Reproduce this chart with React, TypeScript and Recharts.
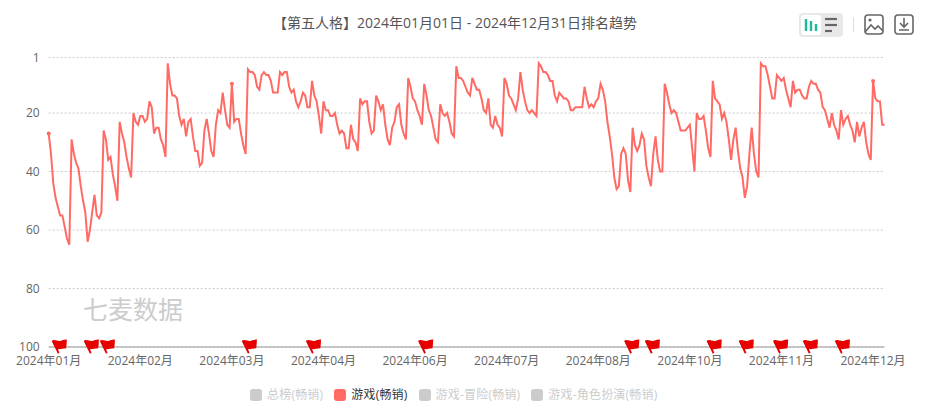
import { LineChart, Line, XAxis, YAxis, CartesianGrid, ReferenceLine } from "recharts"

const ranks = [
  27, 34, 44, 49, 52, 55, 55, 59, 63, 65, 29, 34, 37, 39, 45, 50, 54, 64, 60, 54,
  48, 55, 56, 54, 26, 29, 36, 35, 41, 45, 50, 23, 27, 30, 35, 39, 42, 20, 23, 24,
  21, 21, 23, 22, 16, 18, 27, 25, 25, 29, 31, 35, 3, 10, 14, 14, 15, 21, 24, 22,
  28, 23, 22, 28, 33, 33, 38, 37, 26, 22, 27, 33, 35, 24, 19, 20, 13, 19, 24, 25,
  10, 23, 22, 22, 27, 31, 34, 5, 6, 6, 7, 11, 12, 7, 6, 7, 7, 9, 13, 13,
  13, 6, 7, 6, 6, 11, 13, 12, 16, 18, 16, 13, 14, 18, 18, 9, 14, 16, 21, 27,
  16, 19, 19, 21, 21, 20, 24, 27, 26, 27, 32, 32, 24, 29, 30, 33, 15, 17, 16, 16,
  23, 27, 26, 14, 16, 19, 17, 24, 29, 31, 25, 23, 18, 17, 24, 27, 29, 8, 11, 15,
  16, 19, 21, 24, 10, 14, 19, 21, 25, 29, 30, 17, 20, 21, 20, 23, 27, 28, 4, 8,
  8, 9, 11, 13, 14, 8, 10, 12, 12, 15, 19, 20, 15, 24, 25, 21, 24, 25, 28, 8,
  10, 14, 15, 17, 19, 15, 6, 12, 16, 19, 20, 19, 20, 21, 3, 4, 6, 6, 7, 9,
  9, 14, 16, 13, 14, 15, 15, 16, 19, 19, 18, 18, 18, 18, 11, 15, 18, 17, 18, 16,
  15, 10, 12, 16, 23, 28, 34, 42, 46, 45, 34, 32, 34, 43, 47, 25, 31, 33, 31, 27,
  29, 38, 42, 45, 34, 28, 36, 40, 40, 10, 13, 17, 20, 19, 20, 23, 26, 26, 26, 25,
  24, 32, 40, 20, 22, 22, 21, 26, 32, 35, 9, 15, 16, 17, 22, 20, 23, 29, 36, 29,
  25, 33, 39, 42, 49, 45, 34, 25, 34, 40, 42, 3, 4, 4, 7, 11, 15, 15, 7, 8,
  9, 8, 12, 15, 18, 9, 13, 12, 12, 14, 15, 15, 11, 9, 10, 10, 12, 13, 18, 19,
  22, 25, 20, 24, 26, 29, 19, 24, 22, 21, 24, 26, 30, 23, 28, 25, 23, 30, 34, 36,
  9, 15, 16, 16, 24, 24,
]

const flagDays = [4, 18, 25, 87, 115, 164, 254, 263, 290, 304, 319, 332, 346]
const monthTicks = ["2024-01-01", "2024-02-10", "2024-03-21", "2024-04-30", "2024-06-09", "2024-07-19", "2024-08-28", "2024-10-07", "2024-11-16", "2024-12-26"]
const rankTicks = [1, 20, 40, 60, 80, 100]
const dotDays = [0, 80, 360]
const legendItems = ["总榜(畅销)", "游戏(畅销)", "游戏-冒险(畅销)", "游戏-角色扮演(畅销)"]
const activeLegend = "游戏(畅销)"

const fontFamily = '"Open Sans", "Noto Sans CJK SC", sans-serif'
const lineColor = "#ff6b64"

const startDate = Date.UTC(2024, 0, 1)
const chartData = ranks.map((rank, i) => ({
  date: new Date(startDate + i * 86400000).toISOString().slice(0, 10),
  rank,
  flag: flagDays.includes(i) ? 100 : null,
}))

function FlagDot({ cx, cy, index }: { cx?: number; cy?: number; index?: number }) {
  if (cx == null || cy == null || chartData[index ?? 0].flag == null) return <g key={index} />
  return (
    <g key={index} transform={`translate(${cx} ${cy + 6.8})`}>
      <path d="M0 0 L-6 -12.5 L-3.8 -13.6 L1.6 -1 Z" fill="#e60000" />
      <path d="M-6 -13 C-3 -15 0 -12 3 -13 C5 -13.8 7 -14.2 9 -14.2 C8.9 -11 8.7 -8.2 8.3 -5.6 C5.5 -5.4 3.5 -4.6 1 -4.6 C0 -4.6 -1 -5 -2.2 -5.6 Z" fill="#e60000" />
    </g>
  )
}

function RankDot({ cx, cy, index }: { cx?: number; cy?: number; index?: number }) {
  if (cx == null || cy == null || !dotDays.includes(index ?? -1)) return <g key={index} />
  return <circle key={index} cx={cx} cy={cy} r={2} fill={lineColor} />
}

function Toolbar() {
  return (
    <svg width={125} height={30} style={{ position: "absolute", left: 795, top: 10 }}>
      <rect x={4} y={3} width={44} height={24} rx={4} fill="#e8e8e8" />
      <rect x={6} y={5} width={20} height={20} rx={3} fill="#fff" />
      <g stroke="#1abc9c" strokeWidth={2.4}>
        <line x1={11} y1={9} x2={11} y2={21} />
        <line x1={16} y1={11} x2={16} y2={21} />
        <line x1={21} y1={14} x2={21} y2={21} />
      </g>
      <g stroke="#666" strokeWidth={2.2}>
        <line x1={30} y1={9} x2={42} y2={9} />
        <line x1={30} y1={15} x2={42} y2={15} />
        <line x1={30} y1={21} x2={37} y2={21} />
      </g>
      <line x1={58.5} y1={7} x2={58.5} y2={22} stroke="#ddd" />
      <g fill="none" stroke="#666" strokeWidth={1.6}>
        <rect x={70} y={5} width={18} height={19} rx={3} />
        <path d="M70 22 L76 15 L80 19 L83 16 L88 21" />
        <rect x={100} y={5} width={18} height={19} rx={3} />
        <path d="M109 8 V17 M105 13 L109 17 L113 13 M104 20 H114" />
      </g>
      <circle cx={75} cy={10} r={1.6} fill="#666" />
    </svg>
  )
}

function ChartLegend() {
  return (
    <div style={{ position: "absolute", left: 250, top: 387, display: "flex", gap: 11, fontSize: 12, lineHeight: "16px", fontFamily }}>
      {legendItems.map((item) => {
        const active = item === activeLegend
        return (
          <div key={item} style={{ display: "flex", alignItems: "center", gap: 5, color: active ? "#333" : "#ccc", whiteSpace: "nowrap" }}>
            <span style={{ width: 12, height: 12, borderRadius: 3, background: active ? lineColor : "#ccc" }} />
            <span style={{ letterSpacing: 0.2 }}>{item}</span>
          </div>
        )
      })}
    </div>
  )
}

export default function App() {
  return (
    <div style={{ position: "absolute", left: 0, top: 0, width: 925, height: 413, background: "#fff", fontFamily }}>
      <div style={{ position: "absolute", left: 0, width: 910, top: 14, textAlign: "center", fontSize: 14, lineHeight: "18px", color: "#555" }}>
        【第五人格】2024年01月01日 - 2024年12月31日排名趋势
      </div>
      <div style={{ position: "absolute", left: 83, top: 293, fontSize: 25, lineHeight: "32px", color: "#ccc" }}>七麦数据</div>
      <LineChart width={925} height={413} data={chartData} margin={{ top: 57.5, right: 40.5, bottom: 36, left: 0.7 }} style={{ position: "absolute", left: 0, top: 0 }}>
        <CartesianGrid vertical={false} stroke="#ccc" strokeDasharray="2 2" />
        <XAxis
          dataKey="date"
          ticks={monthTicks}
          interval={0}
          tickFormatter={(d: string) => `${d.slice(0, 4)}年${d.slice(5, 7)}月`}
          axisLine={false}
          tickLine={false}
          tick={{ fill: "#666", fontSize: 12 }}
          tickMargin={3}
          height={30}
        />
        <YAxis
          type="number"
          reversed
          domain={[1, 100]}
          ticks={rankTicks}
          interval={0}
          axisLine={false}
          tickLine={false}
          tick={{ fill: "#666", fontSize: 12 }}
          width={48}
          tickMargin={3}
        />
        <ReferenceLine y={100} stroke="#999" />
        <Line dataKey="rank" stroke={lineColor} strokeWidth={2} dot={RankDot} activeDot={false} isAnimationActive={false} />
        <Line dataKey="flag" stroke="none" dot={FlagDot} activeDot={false} legendType="none" isAnimationActive={false} />
      </LineChart>
      <ChartLegend />
      <Toolbar />
    </div>
  )
}
